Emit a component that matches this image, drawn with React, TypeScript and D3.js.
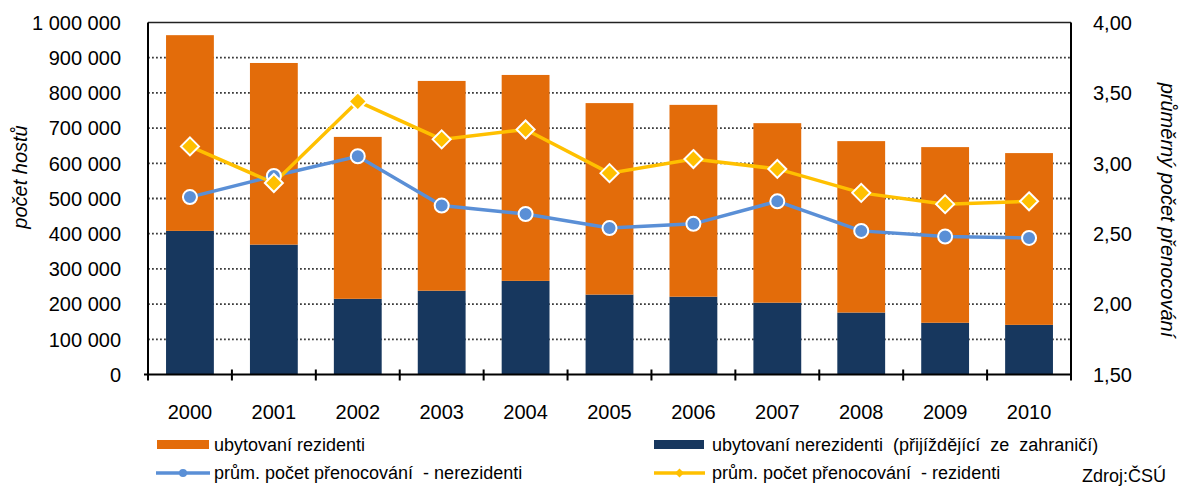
import React from "react";
import * as d3 from "d3";

const years = ["2000", "2001", "2002", "2003", "2004", "2005", "2006", "2007", "2008", "2009", "2010"];
const residents = [556000, 516000, 460000, 596000, 585000, 544000, 545000, 510000, 487000, 499000, 488000];
const nonResidents = [408000, 369000, 215000, 238000, 266000, 227000, 221000, 204000, 176000, 147000, 141000];
const avgNonResidents = [2.76, 2.91, 3.05, 2.70, 2.64, 2.54, 2.57, 2.73, 2.52, 2.48, 2.47];
const avgResidents = [3.12, 2.86, 3.44, 3.17, 3.24, 2.93, 3.03, 2.96, 2.79, 2.71, 2.73];
const leftTicks = [0, 100000, 200000, 300000, 400000, 500000, 600000, 700000, 800000, 900000, 1000000];
const rightTicks = [1.5, 2.0, 2.5, 3.0, 3.5, 4.0];

const C_ORANGE = "#E36C0A";
const C_NAVY = "#17375E";
const C_BLUE = "#5A8FD6";
const C_YELLOW = "#FFC000";
const FONT = "'Liberation Sans', Arial, sans-serif";

export default function App() {
  const W = 1180, H = 486;
  const L = 148, R = 1071, T = 22.5, B = 374.5;
  const x = d3.scaleBand<string>().domain(years).range([L, R]).paddingInner(0.43).paddingOuter(0.215);
  const band = (R - L) / years.length;
  const yL = d3.scaleLinear().domain([0, 1000000]).range([B, T]);
  const yR = d3.scaleLinear().domain([1.5, 4.0]).range([B, T]);
  const fmtL = (v: number) => d3.format(",")(v).replace(/,/g, " ");
  const fmtR = (v: number) => v.toFixed(2).replace(".", ",");
  const cx = (i: number) => (x(years[i]) as number) + x.bandwidth() / 2;

  const lineGen = (vals: number[]) =>
    d3.line<number>().x((_, i) => cx(i)).y((v) => yR(v))(vals) as string;

  const diamond = (px: number, py: number, r: number) =>
    `M${px},${py - r}L${px + r},${py}L${px},${py + r}L${px - r},${py}Z`;

  const pre = { whiteSpace: "pre" as const };

  return (
    <svg width={W} height={H} style={{ position: "absolute", left: 0, top: 0, background: "#fff" }} fontFamily={FONT}>
      {/* gridlines */}
      {leftTicks.slice(1, -1).map((t) => (
        <line key={t} x1={L} x2={R} y1={yL(t)} y2={yL(t)} stroke="#3a3a3a" strokeWidth={1.8} strokeDasharray="1.8,2.2" />
      ))}
      {/* bars */}
      {years.map((yr, i) => (
        <g key={yr}>
          <rect x={x(yr)} width={x.bandwidth()} y={yL(nonResidents[i])} height={B - yL(nonResidents[i])} fill={C_NAVY} />
          <rect
            x={x(yr)}
            width={x.bandwidth()}
            y={yL(nonResidents[i] + residents[i])}
            height={yL(nonResidents[i]) - yL(nonResidents[i] + residents[i])}
            fill={C_ORANGE}
          />
        </g>
      ))}
      {/* frame */}
      <line x1={L} x2={R} y1={T} y2={T} stroke="#222" strokeWidth={1.5} />
      <line x1={L} x2={L} y1={T} y2={B} stroke="#000" strokeWidth={2} />
      <line x1={R} x2={R} y1={T} y2={B + 4} stroke="#000" strokeWidth={2} />
      <line x1={L - 4} x2={R} y1={B} y2={B} stroke="#000" strokeWidth={2.2} />
      {d3.range(years.length + 1).map((k) => (
        <line key={k} x1={L + k * band} x2={L + k * band} y1={B - 5} y2={B + 6} stroke="#000" strokeWidth={2} />
      ))}
      {/* lines */}
      <path d={lineGen(avgNonResidents)} fill="none" stroke={C_BLUE} strokeWidth={3.5} />
      <path d={lineGen(avgResidents)} fill="none" stroke={C_YELLOW} strokeWidth={3.5} />
      {avgNonResidents.map((v, i) => (
        <circle key={"c" + i} cx={cx(i)} cy={yR(v)} r={7} fill={C_BLUE} stroke="#fff" strokeWidth={2} />
      ))}
      {avgResidents.map((v, i) => (
        <path key={"d" + i} d={diamond(cx(i), yR(v), 9)} fill={C_YELLOW} stroke="#fff" strokeWidth={2} />
      ))}
      {/* left axis labels */}
      {leftTicks.map((t) => (
        <text key={t} x={121} y={yL(t)} dy="0.36em" textAnchor="end" fontSize={20} fill="#000">
          {fmtL(t)}
        </text>
      ))}
      {/* right axis labels */}
      {rightTicks.map((t) => (
        <text key={t} x={1093} y={yR(t)} dy="0.36em" textAnchor="start" fontSize={20} fill="#000">
          {fmtR(t)}
        </text>
      ))}
      {/* year labels */}
      {years.map((yr, i) => (
        <text key={yr} x={cx(i)} y={419} textAnchor="middle" fontSize={20} fill="#000">
          {yr}
        </text>
      ))}
      {/* axis titles */}
      <text transform="translate(27,177) rotate(-90)" textAnchor="middle" fontSize={20} fontStyle="italic" fill="#000">
        počet hostů
      </text>
      <text transform="translate(1161,210) rotate(90)" textAnchor="middle" fontSize={20} fontStyle="italic" fill="#000">
        průměrný počet přenocování
      </text>
      {/* legend */}
      <rect x={157} y={440} width={52} height={9} fill={C_ORANGE} />
      <text x={214} y={451} fontSize={18} fill="#000" textLength={151} lengthAdjust="spacingAndGlyphs">ubytovaní rezidenti</text>
      <rect x={654} y={440} width={50} height={9} fill={C_NAVY} />
      <text x={712} y={451} fontSize={18} fill="#000" style={pre}>{"ubytovaní nerezidenti  (přijíždějící  ze  zahraničí)"}</text>
      <line x1={156} x2={210} y1={473} y2={473} stroke={C_BLUE} strokeWidth={3.5} />
      <circle cx={183} cy={473} r={4} fill={C_BLUE} />
      <text x={214} y={479} fontSize={18} fill="#000" style={pre}>{"prům. počet přenocování  - nerezidenti"}</text>
      <line x1={654} x2={705} y1={473} y2={473} stroke={C_YELLOW} strokeWidth={3.5} />
      <path d={diamond(679.5, 473, 4.5)} fill={C_YELLOW} />
      <text x={712} y={479} fontSize={18} fill="#000" style={pre}>{"prům. počet přenocování  - rezidenti"}</text>
      <text x={1082} y={482} fontSize={18} fill="#000">Zdroj:ČSÚ</text>
    </svg>
  );
}
